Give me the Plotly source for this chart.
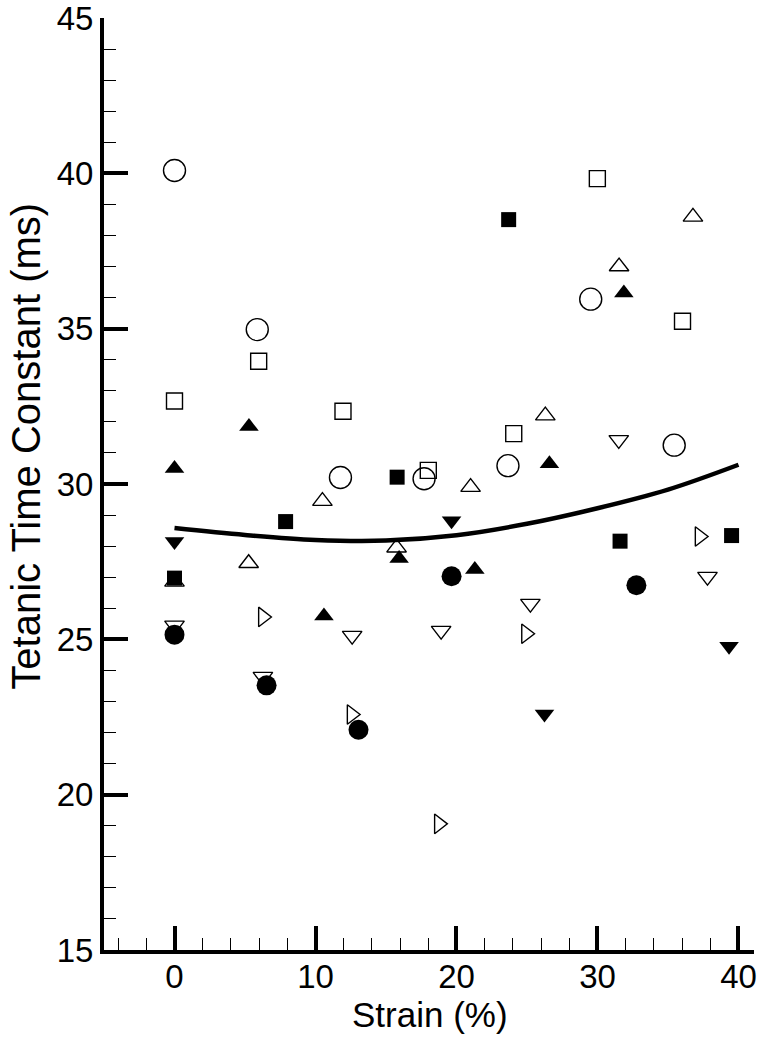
import plotly.graph_objects as go

# ---- data ----
open_circle_x = [0, 5.87, 11.77, 17.7, 23.65, 29.52, 35.44]
open_circle_y = [40.09, 34.97, 30.21, 30.17, 30.59, 35.95, 31.25]

filled_circle_x = [0, 6.53, 13.05, 19.65, 32.76]
filled_circle_y = [25.15, 23.52, 22.09, 27.03, 26.74]

open_square_x = [0, 5.97, 11.95, 18.0, 24.06, 29.99, 36.03]
open_square_y = [32.67, 33.95, 32.34, 30.44, 31.62, 39.83, 35.24]

filled_square_x = [0, 7.88, 15.79, 23.7, 31.6, 39.51]
filled_square_y = [26.97, 28.79, 30.22, 38.51, 28.16, 28.34]

open_tri_up_x = [0, 5.26, 10.49, 15.75, 21.0, 26.3, 31.53, 36.77]
open_tri_up_y = [26.85, 27.45, 29.45, 27.95, 29.9, 32.2, 37.0, 38.6]

filled_tri_up_x = [0, 5.28, 10.6, 15.93, 21.3, 26.59, 31.87]
filled_tri_up_y = [30.5, 31.85, 25.75, 27.6, 27.25, 30.65, 36.15]

open_tri_down_x = [0, 6.27, 12.6, 18.91, 25.24, 31.51, 37.8]
open_tri_down_y = [25.45, 23.8, 25.12, 25.28, 26.15, 31.42, 27.02]

filled_tri_down_x = [0, 19.65, 26.24, 39.33]
filled_tri_down_y = [28.15, 28.82, 22.6, 24.78]

open_tri_right_x = [6.27, 12.56, 18.75, 24.93, 37.24]
open_tri_right_y = [25.72, 22.58, 19.06, 25.18, 28.31]

fit_x = [0, 5, 10, 15, 20, 25, 30, 35, 40]
fit_y = [28.58, 28.36, 28.2, 28.18, 28.35, 28.72, 29.22, 29.82, 30.62]

x_ticks = [0, 10, 20, 30, 40]
y_ticks = [15, 20, 25, 30, 35, 40, 45]

x_title = "Strain (%)"
y_title = "Tetanic Time Constant (ms)"

FONT = "Liberation Sans, Arial, Helvetica, sans-serif"

fig = go.Figure()

fig.add_trace(go.Scatter(x=fit_x, y=fit_y, mode="lines",
                         line=dict(color="black", width=4.5, shape="spline"),
                         showlegend=False, hoverinfo="skip"))

def add(xs, ys, symbol, size, lw=1.4):
    fig.add_trace(go.Scatter(
        x=xs, y=ys, mode="markers", showlegend=False,
        marker=dict(symbol=symbol, size=size, color="black",
                    line=dict(color="black", width=lw))))

add(open_tri_up_x, open_tri_up_y, "triangle-up-open", 17)
add(open_tri_down_x, open_tri_down_y, "triangle-down-open", 17)
add(open_tri_right_x, open_tri_right_y, "triangle-right-open", 17)
add(open_square_x, open_square_y, "square-open", 16)
add(open_circle_x, open_circle_y, "circle-open", 22)
add(filled_tri_up_x, filled_tri_up_y, "triangle-up", 17, 0)
add(filled_tri_down_x, filled_tri_down_y, "triangle-down", 17, 0)
add(filled_square_x, filled_square_y, "square", 15, 0)
add(filled_circle_x, filled_circle_y, "circle", 20, 0)

fig.update_layout(
    width=759, height=1037,
    margin=dict(l=104, r=5, t=18, b=87),
    paper_bgcolor="white", plot_bgcolor="white",
    font=dict(family=FONT, color="black", size=33),
    showlegend=False,
)

fig.update_xaxes(
    range=[-5, 41.1], tickvals=x_ticks, ticktext=[str(v) for v in x_ticks],
    showline=True, linecolor="black", linewidth=4,
    ticks="inside", ticklen=24, tickwidth=3.5, tickcolor="black",
    minor=dict(ticks="inside", dtick=2, tick0=0, ticklen=12, tickwidth=1.3,
               tickcolor="black", showgrid=False),
    showgrid=False, zeroline=False, automargin=False,
    ticklabeloverflow="allow", ticklabelstandoff=-6,
    tickfont=dict(size=33, family=FONT),
)
fig.update_yaxes(
    range=[15, 45], tickvals=y_ticks, ticktext=[str(v) for v in y_ticks],
    showline=True, linecolor="black", linewidth=4,
    ticks="inside", ticklen=24, tickwidth=3.5, tickcolor="black",
    minor=dict(ticks="inside", dtick=1, tick0=15, ticklen=12, tickwidth=1.3,
               tickcolor="black", showgrid=False),
    showgrid=False, zeroline=False, automargin=False,
    ticklabeloverflow="allow", ticklabelstandoff=0,
    tickfont=dict(size=33, family=FONT),
)

fig.add_annotation(
    text=y_title, textangle=-90, showarrow=False,
    xref="paper", yref="y", x=0, y=31.2, xanchor="center", yanchor="middle",
    xshift=-78, font=dict(size=40, family=FONT, color="black"),
)
fig.add_annotation(
    text=x_title, showarrow=False,
    xref="x", yref="paper", x=18.1, y=0, xanchor="center", yanchor="middle",
    yshift=-64, font=dict(size=35, family=FONT, color="black"),
)

fig.write_html("out.html",
               config={"displayModeBar": False},
               post_script="document.body.style.margin='0';"
                           "document.body.style.overflow='hidden';")
